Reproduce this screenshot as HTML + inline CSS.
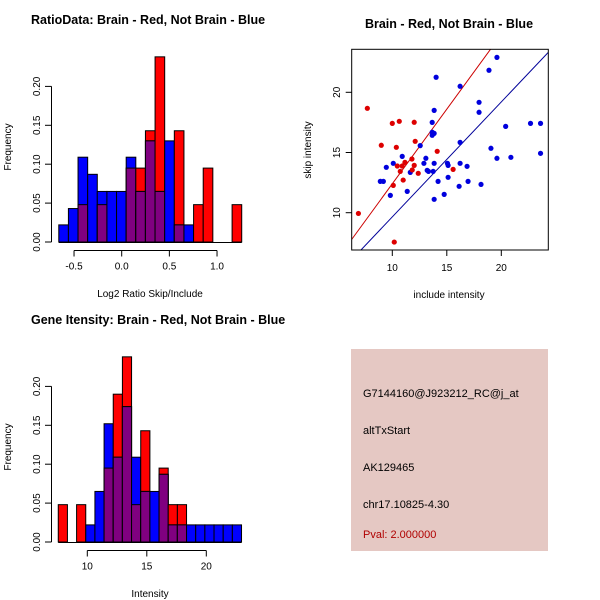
<!DOCTYPE html>
<html><head><meta charset="utf-8"><style>
body{margin:0;background:#fff}
svg{display:block;font-family:"Liberation Sans",sans-serif}
</style></head><body>
<svg id="c" width="600" height="600" viewBox="0 0 600 600">
<rect width="600" height="600" fill="#fff"/>
<rect x="351" y="349" width="197" height="202" fill="#e5c8c3"/>
<text x="363" y="397" font-size="11">G7144160@J923212_RC@j_at</text>
<text x="363" y="434" font-size="11">altTxStart</text>
<text x="363" y="471" font-size="11">AK129465</text>
<text x="363" y="508" font-size="11">chr17.10825-4.30</text>
<text x="363" y="538" font-size="11" fill="#b00000">Pval: 2.000000</text>
</svg>
<script>
// ---- histogram 1: RatioData ----
const h1Start=-0.66, h1Width=0.101;
const h1Red=[0,0,0.048,0,0.048,0,0,0.095,0.095,0.143,0.238,0,0.143,0,0.048,0.095,0,0,0.048];
const h1Blue=[0.022,0.043,0.109,0.087,0.065,0.065,0.065,0.109,0.065,0.13,0.065,0.13,0.022,0.022,0,0,0,0,0];
const h1Ticks=[-0.5,0,0.5,1.0];
const h1TickLabels=["-0.5","0.0","0.5","1.0"];
// ---- histogram 2: Gene Intensity ----
const h2Start=7.56, h2Width=0.77;
const h2Red=[0.048,0,0.048,0,0,0.095,0.19,0.238,0.048,0.143,0,0.095,0.048,0.048,0,0,0,0,0,0];
const h2Blue=[0,0,0,0.022,0.065,0.152,0.109,0.174,0.109,0.065,0.065,0.087,0.022,0.022,0.022,0.022,0.022,0.022,0.022,0.022];
const h2Ticks=[10,15,20];
const h2TickLabels=["10","15","20"];
const yTicks=[0,0.05,0.10,0.15,0.20];
const yTickLabels=["0.00","0.05","0.10","0.15","0.20"];
// ---- scatter ----
const redX=[7.71,10.0,10.64,12.01,8.99,10.37,12.1,14.12,11.8,11.16,10.91,10.46,12.01,10.73,11.83,12.38,11.0,15.58,10.09,6.89,10.18];
const redY=[18.67,17.42,17.59,17.51,15.6,15.43,15.93,15.1,14.46,14.18,13.88,13.88,13.93,13.43,13.55,13.27,12.71,13.6,12.27,9.94,7.56];
const blueX=[19.6,18.87,14.02,16.22,17.96,17.96,13.84,13.66,20.4,22.68,23.6,13.66,13.84,13.66,12.56,16.22,19.05,10.91,13.08,19.6,20.88,23.6,9.45,10.09,12.9,13.84,15.06,15.12,16.22,16.86,11.65,13.2,13.32,13.75,8.9,9.18,14.2,15.12,16.95,16.13,18.14,9.82,11.37,14.76,13.84];
const blueY=[22.9,21.83,21.25,20.5,19.17,18.34,18.5,17.5,17.17,17.42,17.42,16.68,16.59,16.43,15.57,15.84,15.35,14.68,14.52,14.52,14.6,14.93,13.77,14.1,14.1,14.1,14.1,13.93,14.1,13.85,13.35,13.52,13.43,13.43,12.6,12.6,12.6,12.94,12.6,12.19,12.35,11.44,11.77,11.52,11.11];
const redLine=[0.0,1.24];   // intercept, slope
const blueLine=[0.1,0.955];
const sTicks=[10,15,20];

const svg=document.getElementById('c');
const NS='http://www.w3.org/2000/svg';
function mk(tag,at,parent){const e=document.createElementNS(NS,tag);for(const k in at)e.setAttribute(k,at[k]);(parent||svg).appendChild(e);return e;}
function txt(x,y,s,size,extra,parent){const e=mk('text',Object.assign({x:x,y:y,'font-size':size},extra||{}),parent);e.textContent=s;return e;}

function hist(name,title,xlabel,y0,start,w,red,blue,ticks,tickLabels,xOf){
  const g=mk('g',{});
  
  
  const yOf=v=>y0-v*(38.9/0.05);
  const t=txt(31,y0-218,title,12.5,{'font-weight':'bold'},g);
  
  
  for(let i=0;i<red.length;i++){
    const xa=xOf(start+i*w), xb=xOf(start+(i+1)*w);
    const r=red[i], b=blue[i], m=Math.min(r,b);
    if(r>0){const e=mk('rect',{x:xa,y:yOf(r),width:xb-xa,height:y0-yOf(r),fill:'#ff0000',stroke:'#000','stroke-width':1},g);
      
      }
    if(b>0){const e=mk('rect',{x:xa,y:yOf(b),width:xb-xa,height:y0-yOf(b),fill:'#0000ff',stroke:'#000','stroke-width':1},g);
      
      }
    if(m>0){const e=mk('rect',{x:xa,y:yOf(m),width:xb-xa,height:y0-yOf(m),fill:'#800080',stroke:'#000','stroke-width':1},g);
      
      }
  }
  mk('line',{x1:51.5,x2:51.5,y1:yOf(0),y2:yOf(0.2),stroke:'#000'},g);
  yTicks.forEach((v,i)=>{const y=yOf(v);mk('line',{x1:45,x2:51.5,y1:y,y2:y,stroke:'#000'},g);
    const e=txt(0,0,yTickLabels[i],10,{transform:`translate(40,${y}) rotate(-90)`,'text-anchor':'middle'},g);
    
    });
  const yl=txt(0,0,'Frequency',10,{transform:`translate(11,${y0-95}) rotate(-90)`,'text-anchor':'middle'},g);
  
  
  mk('line',{x1:xOf(start),x2:xOf(start+red.length*w),y1:y0+0.5,y2:y0+0.5,stroke:'#000'},g);
  const ay=y0+8.5;
  mk('line',{x1:xOf(ticks[0]),x2:xOf(ticks[ticks.length-1]),y1:ay,y2:ay,stroke:'#000'},g);
  ticks.forEach((v,i)=>{const x=xOf(v);mk('line',{x1:x,x2:x,y1:ay,y2:ay+6,stroke:'#000'},g);
    const e=txt(x,ay+19,tickLabels[i],10,{'text-anchor':'middle'},g);
    
    });
  const xl=txt(150,y0+55,xlabel,10,{'text-anchor':'middle'},g);
  
  
}
hist('ratio-histogram','RatioData: Brain - Red, Not Brain - Blue','Log2 Ratio Skip/Include',242,h1Start,h1Width,h1Red,h1Blue,h1Ticks,h1TickLabels,v=>121.7+v*95.33);
hist('intensity-histogram','Gene Itensity: Brain - Red, Not Brain - Blue','Intensity',542,h2Start,h2Width,h2Red,h2Blue,h2Ticks,h2TickLabels,v=>87.3+(v-10)*11.9);

(function(){
  const g=mk('g',{});
  
  
  const L=351.7,R=548.3,T=49.3,B=250;
  const xOf=v=>392.3+(v-10)*10.9, yOf=v=>212.7-(v-10)*12.04;
  const xmin=6.27,xmax=24.3;
  const t=txt(449,28,'Brain - Red, Not Brain - Blue',12.5,{'font-weight':'bold','text-anchor':'middle'},g);
  
  
  const cp=mk('clipPath',{id:'sc'},g);mk('rect',{x:L,y:T,width:R-L,height:B-T},cp);
  [[redLine,'#cc0000','red-fit-line'],[blueLine,'#000099','blue-fit-line']].forEach(([ln,c,n])=>{
    const e=mk('line',{x1:xOf(xmin),y1:yOf(ln[0]+ln[1]*xmin),x2:xOf(xmax),y2:yOf(ln[0]+ln[1]*xmax),stroke:c,'stroke-width':1,'clip-path':'url(#sc)'},g);
    
    });
  blueX.forEach((x,i)=>{const e=mk('circle',{cx:xOf(x),cy:yOf(blueY[i]),r:2.6,fill:'#0000dd'},g);
    
    });
  redX.forEach((x,i)=>{const e=mk('circle',{cx:xOf(x),cy:yOf(redY[i]),r:2.6,fill:'#dd0000'},g);
    
    });
  mk('rect',{x:L,y:T,width:R-L,height:B-T,fill:'none',stroke:'#000'},g);
  sTicks.forEach(v=>{
    const x=xOf(v);mk('line',{x1:x,x2:x,y1:B,y2:B+6,stroke:'#000'},g);
    const a=txt(x,B+21,String(v),10,{'text-anchor':'middle'},g);
    
    
    const y=yOf(v);mk('line',{x1:L-6,x2:L,y1:y,y2:y,stroke:'#000'},g);
    const b=txt(0,0,String(v),10,{transform:`translate(340,${y}) rotate(-90)`,'text-anchor':'middle'},g);
    
    
  });
  const xl=txt(449,298,'include intensity',10,{'text-anchor':'middle'},g);
  
  
  const yl=txt(0,0,'skip intensity',10,{transform:'translate(311,150) rotate(-90)','text-anchor':'middle'},g);
  
  
})();
</script>
</body></html>
